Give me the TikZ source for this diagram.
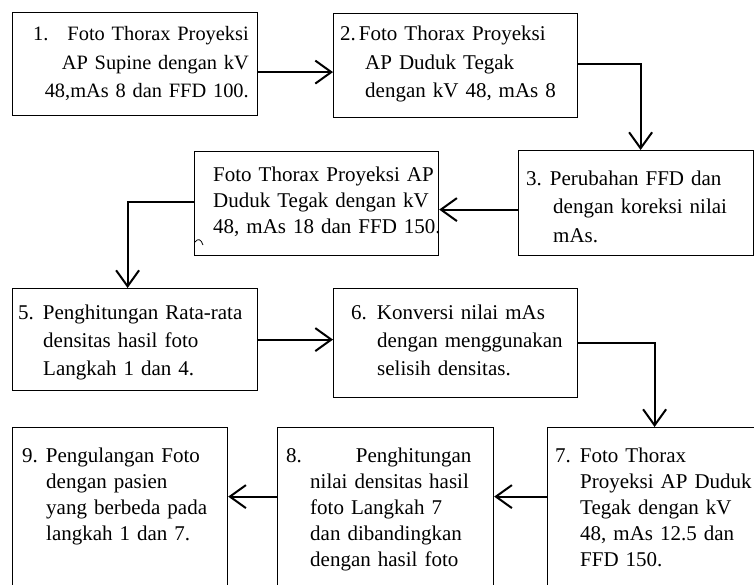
\documentclass[tikz,border=0pt]{standalone}
\usepackage{fontspec}
\setmainfont{Liberation Serif}
\usetikzlibrary{arrows.meta}
\hyphenpenalty=10000
\begin{document}
\begin{tikzpicture}[x=1pt,y=-1pt,
  box/.style={draw, line width=1.2pt, inner sep=0pt, anchor=north west},
  txt/.style={inner sep=0pt, anchor=base west, align=left},
  ls/.style={font=\fontsize{21}{#1}\selectfont},
  conn/.style={line width=2pt, -{Straight Barb[length=16pt,width=23pt,line width=2pt]}}]
\useasboundingbox (0,0) rectangle (754,585);
\clip (0,0) rectangle (754,585);
% boxes
\node[box, minimum width=245pt, minimum height=103pt] (b1) at (12,12) {};
\node[box, minimum width=244pt, minimum height=104pt] (b2) at (333,13) {};
\node[box, minimum width=235pt, minimum height=105pt] (b3) at (518,150) {};
\node[box, minimum width=244pt, minimum height=104pt] (b4) at (194,151) {};
\node[box, minimum width=245pt, minimum height=102pt] (b5) at (12,288) {};
\node[box, minimum width=244pt, minimum height=109pt] (b6) at (333,288) {};
\node[box, minimum width=215pt, minimum height=163pt] (b9) at (12,427) {};
\node[box, minimum width=216pt, minimum height=163pt] (b8) at (277,427) {};
\node[box, minimum width=210pt, minimum height=163pt] (b7) at (547,427) {};
% texts
\node[txt, font=\fontsize{20.4}{28.5}\selectfont, text width=260pt, align=right, anchor=base east] (t1) at (249,41)
  {1.\hspace{19pt}Foto Thorax Proyeksi\\AP Supine dengan kV\\48,mAs 8 dan FFD 100.};
\node[txt, ls=28.5, text width=260pt] (t2) at (340,41)
  {2.\hspace{3pt}Foto Thorax Proyeksi\\\hspace*{25pt}AP Duduk Tegak\\\hspace*{25pt}dengan kV 48, mAs 8};
\node[txt, ls=28, text width=260pt] (t3) at (526,186)
  {3.\hspace{8pt}Perubahan FFD dan\\\hspace*{27pt}dengan koreksi nilai\\\hspace*{27pt}mAs.};
\node[txt, ls=26, text width=260pt] (t4) at (213,182)
  {Foto Thorax Proyeksi AP\\Duduk Tegak dengan kV\\48, mAs 18 dan FFD 150.};
\node[txt, ls=28, text width=260pt] (t5) at (18,319)
  {5.\hspace{9pt}Penghitungan Rata-rata\\\hspace*{25pt}densitas hasil foto\\\hspace*{25pt}Langkah 1 dan 4.};
\node[txt, ls=28, text width=260pt] (t6) at (351,319)
  {6.\hspace{10pt}Konversi nilai mAs\\\hspace*{26pt}dengan menggunakan\\\hspace*{26pt}selisih densitas.};
\node[txt, ls=26, text width=260pt] (t7) at (555,462)
  {7.\hspace{9pt}Foto Thorax\\\hspace*{25pt}Proyeksi AP Duduk\\\hspace*{25pt}Tegak dengan kV\\\hspace*{25pt}48, mAs 12.5 dan\\\hspace*{25pt}FFD 150.};
\node[txt, ls=26, text width=260pt] (t8) at (286,462)
  {8.\hspace{54pt}Penghitungan\\\hspace*{24pt}nilai densitas hasil\\\hspace*{24pt}foto Langkah 7\\\hspace*{24pt}dan dibandingkan\\\hspace*{24pt}dengan hasil foto};
\node[txt, ls=26, text width=260pt] (t9) at (22,462)
  {9.\hspace{8pt}Pengulangan Foto\\\hspace*{24pt}dengan pasien\\\hspace*{24pt}yang berbeda pada\\\hspace*{24pt}langkah 1 dan 7.};
% stray mark
\draw[line width=0.8pt] (195,242) .. controls (198,238) and (201,239) .. (203,245);
% connectors
\draw[conn] ([yshift=-8pt]b1.east) -- ([yshift=-8pt]b1.east -| b2.west);
\draw[conn] ([yshift=2pt]b2.east) -| ([xshift=4.5pt]b3.north);
\draw[conn] ([yshift=-6.5pt]b3.west) -- ([yshift=-6.5pt]b3.west -| b4.east);
\draw[conn] ([yshift=2pt]b4.west) -| ([xshift=-7.5pt]b5.north);
\draw[conn] (b5.east) -- (b5.east -| b6.west);
\draw[conn] (b6.east) -| ([xshift=2pt]b7.north);
\draw[conn] ([yshift=12.5pt]b7.west) -- ([yshift=12.5pt]b7.west -| b8.east);
\draw[conn] ([yshift=12.5pt]b8.west) -- ([yshift=12.5pt]b8.west -| b9.east);
\end{tikzpicture}
\end{document}
